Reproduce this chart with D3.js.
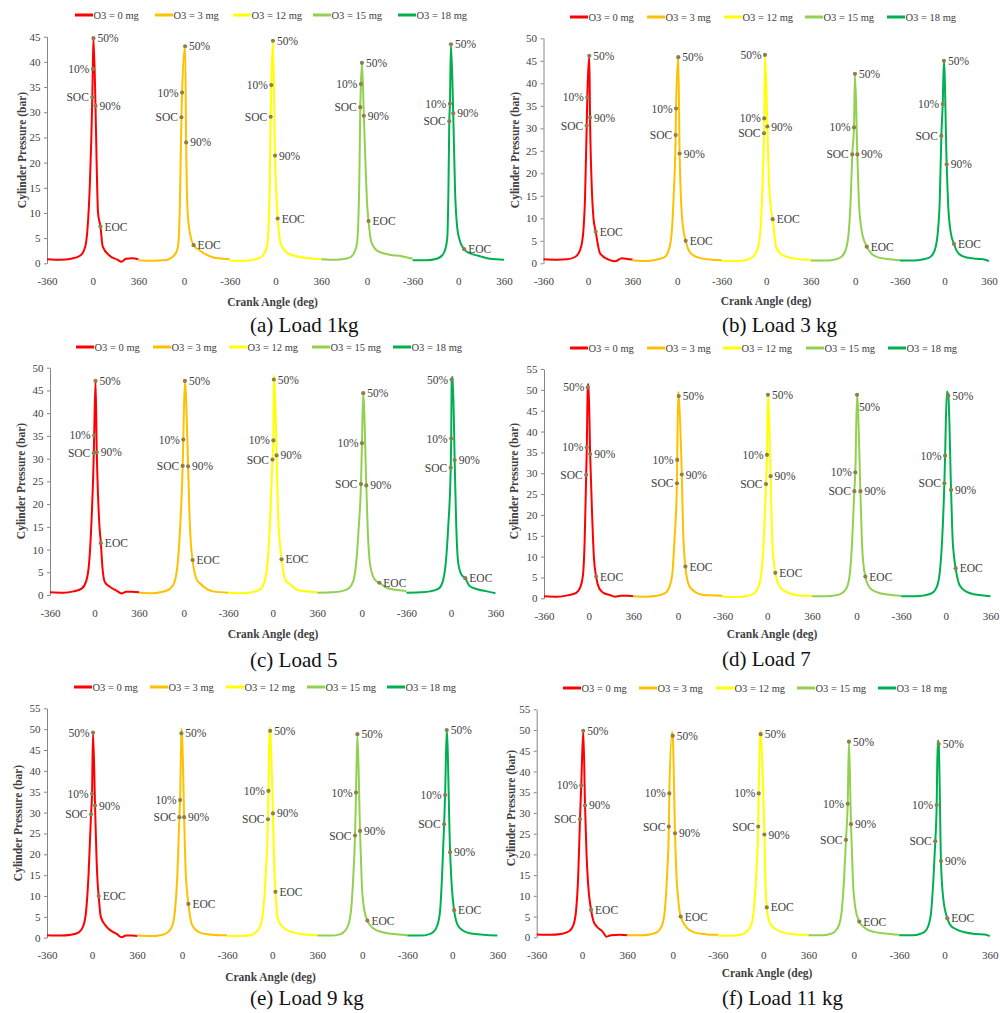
<!DOCTYPE html>
<html><head><meta charset="utf-8">
<script src="https://cdn.jsdelivr.net/npm/d3@7"></script>
<style>body{margin:0;background:#fff}svg{display:block}</style>
</head><body>
<svg id="c" width="1000" height="1013"></svg>
<script>
// ---------- data ----------
const seriesNames = ["O3 = 0 mg","O3 = 3 mg","O3 = 12 mg","O3 = 15 mg","O3 = 18 mg"];
const seriesColors = ["#FF0000","#FFC000","#FFFF00","#92D050","#00B050"];
const xTickLabels = ["-360","0","360","0","-360","0","360","0","-360","0","360"];
const markerNames = ["SOC","10%","50%","90%","EOC"];
const captions = ["(a) Load 1kg","(b) Load 3 kg","(c) Load 5","(d) Load 7","(e) Load 9 kg","(f) Load 11 kg"];
const yMaxes = [45,50,50,55,55,55];

// markers per series: [crank angle deg, pressure bar] for SOC, 10%, 50%, 90%, EOC
const markA = [
 [[-3,33.0],[1,38.6],[6,44.7],[22,31.3],[61,7.3]],
 [[-21,29.0],[-16,33.9],[8,43.1],[16,24.0],[75,3.6]],
 [[-38,29.1],[-33,35.4],[-20,44.2],[-4,21.4],[17,8.9]],
 [[-52,31.0],[-47,35.6],[-39,39.8],[-24,29.3],[13,8.4]],
 [[-71,28.2],[-66,31.7],[-58,43.5],[-40,29.8],[46,2.8]]
];
// remaining pressure trace points [crank angle deg, pressure bar]
const shapeA = [
 [[-360,0.8],[-250,0.7],[-170,0.9],[-100,1.5],[-60,3.2],[-42,6.5],[-22,16],[31,20],[42,10],[79,3.3],[134,1.5],[197,0.7],[226,0.3],[262,0.9],[310,1.0],[360,0.8]],
 [[-360,0.6],[-250,0.5],[-141,0.65],[-89,1.3],[-58,2.4],[-45,4],[-33,12],[28,10],[50,5.5],[120,2.6],[224,1.2],[300,0.9],[360,0.8]],
 [[-360,0.5],[-250,0.5],[-170,0.7],[-110,1.3],[-80,2.4],[-64,3.8],[-54,8],[-45,16],[6,14],[41,4.0],[80,2.3],[132,1.65],[265,1.0],[360,0.8]],
 [[-360,0.8],[-250,0.7],[-170,0.9],[-125,1.3],[-95,2.4],[-78,4],[-68,8],[-60,16],[-10,19],[0,12.5],[35,4.2],[92,2.3],[180,1.7],[275,1.4],[360,0.9]],
 [[-360,0.6],[-250,0.6],[-170,0.9],[-130,1.5],[-105,2.6],[-87,5],[-78,14],[-25,14],[-8,7],[12,4.5],[90,2.0],[156,1.5],[250,0.9],[360,0.7]]
];

const markB = [
 [[-11,30.6],[-6,36.9],[10,46.1],[16,32.4],[62,7.0]],
 [[-12,28.5],[-9,34.4],[9,45.8],[20,24.4],[69,5.0]],
 [[-18,28.9],[-16,32.2],[-10,46.3],[9,30.4],[52,9.8]],
 [[-25,24.2],[-11,30.2],[-3,42.1],[16,24.2],[92,3.7]],
 [[-25,28.3],[-14,35.4],[-4,45.0],[18,22.0],[77,4.3]]
];
const shapeB = [
 [[-360,0.9],[-250,0.8],[-170,0.9],[-105,1.4],[-65,2.9],[-40,6.5],[-24,15],[30,17],[44,10],[97,2.2],[177,0.7],[218,0.45],[272,1.1],[330,0.9],[360,0.85]],
 [[-360,0.6],[-250,0.5],[-170,0.8],[-105,1.3],[-70,2.8],[-45,6.5],[-28,15],[33,13],[48,8],[110,2.2],[180,1.2],[280,0.8],[360,0.7]],
 [[-360,0.5],[-250,0.5],[-170,0.7],[-110,1.4],[-72,3.0],[-48,7],[-32,16],[22,18],[36,12.5],[80,3.6],[130,1.8],[220,1.1],[300,0.8],[360,0.8]],
 [[-360,0.6],[-250,0.6],[-170,0.8],[-115,1.4],[-80,2.8],[-55,6.5],[-38,14],[30,13],[50,7.5],[135,2.0],[200,1.2],[280,0.9],[360,0.7]],
 [[-360,0.6],[-250,0.6],[-170,0.9],[-115,1.4],[-80,2.8],[-55,6.5],[-38,14],[32,12],[50,7],[120,2.0],[180,1.3],[260,1.0],[330,0.8],[360,0.5]]
];

const markC = [
 [[-6,31.2],[-3,35.1],[8,47.1],[18,31.4],[51,11.4]],
 [[-8,28.4],[-3,34.2],[10,47.1],[36,28.3],[72,7.7]],
 [[-2,29.8],[5,34.0],[9,47.4],[31,30.7],[71,7.85]],
 [[-7,24.4],[1,33.4],[11,44.4],[36,24.1],[141,2.7]],
 [[-2,28.0],[2,34.4],[6,47.4],[30,29.7],[116,3.7]]
];
const shapeC = [
 [[-360,0.6],[-250,0.5],[-170,0.8],[-105,1.4],[-68,3.0],[-44,7],[-25,16],[28,22],[40,15],[64,6],[84,2.8],[124,1.8],[180,0.9],[218,0.35],[255,0.7],[300,0.7],[360,0.6]],
 [[-360,0.5],[-250,0.4],[-170,0.7],[-108,1.4],[-72,3.0],[-48,7],[-28,15],[48,17],[58,11.5],[105,3.4],[131,2.6],[238,0.8],[360,0.5]],
 [[-360,0.5],[-250,0.4],[-170,0.6],[-100,1.3],[-66,3.0],[-42,7],[-22,16],[12,48.3],[44,17],[55,12],[100,3.4],[138,2.4],[200,1.1],[270,0.8],[360,0.6]],
 [[-360,0.5],[-250,0.6],[-170,0.8],[-105,1.5],[-70,3.0],[-46,7],[-25,15],[48,14],[65,7],[92,4.0],[115,3.1],[200,1.6],[290,1.1],[360,0.9]],
 [[-360,0.5],[-250,0.6],[-170,0.8],[-100,1.4],[-66,3.0],[-42,7],[-22,15],[14,48.0],[42,16],[59,7],[86,4.4],[150,2.0],[220,1.2],[290,0.8],[360,0.4]]
];

const markD = [
 [[-20,29.6],[-15,36.2],[-7,50.6],[12,34.6],[60,5.2]],
 [[-8,27.6],[-6,33.2],[6,48.5],[31,29.7],[60,7.6]],
 [[-10,27.4],[-2,34.4],[6,48.8],[27,29.3],[65,6.1]],
 [[-18,25.7],[-10,30.2],[4,48.8],[31,25.7],[71,5.2]],
 [[-12,27.6],[-6,34.2],[20,48.6],[42,26.0],[79,7.2]]
];
const shapeD = [
 [[-360,0.5],[-250,0.4],[-170,0.7],[-100,1.3],[-68,2.6],[-46,5.5],[-32,14],[-1,51.4],[28,20],[42,10],[85,2.4],[120,1.3],[170,0.8],[212,0.4],[260,0.6],[320,0.6],[360,0.5]],
 [[-360,0.5],[-250,0.4],[-170,0.6],[-100,1.3],[-68,2.8],[-45,6],[-28,14],[2,49.5],[42,16],[50,11],[90,3.0],[140,1.5],[210,0.8],[300,0.7],[360,0.6]],
 [[-360,0.4],[-250,0.3],[-170,0.5],[-105,1.2],[-70,2.8],[-46,6.5],[-28,14],[40,14],[52,9],[100,2.8],[150,1.6],[230,0.8],[300,0.6],[360,0.6]],
 [[-360,0.5],[-250,0.5],[-170,0.7],[-110,1.4],[-75,2.8],[-52,6.5],[-35,14],[44,13],[56,8],[110,2.4],[170,1.4],[250,0.9],[320,0.7],[360,0.6]],
 [[-360,0.5],[-250,0.5],[-170,0.7],[-108,1.3],[-72,2.8],[-48,6.5],[-30,14],[8,49.6],[55,14],[66,10],[110,3.2],[165,1.6],[240,0.9],[320,0.6],[360,0.5]]
];

const markE = [
 [[-8,29.6],[0,34.5],[8,49.2],[24,31.7],[53,10.0]],
 [[-22,28.9],[-16,33.0],[-6,49.0],[16,28.9],[50,8.1]],
 [[-34,28.4],[-30,35.2],[-16,49.6],[6,29.8],[26,11.0]],
 [[-58,24.5],[-50,34.8],[-39,48.8],[-18,25.6],[41,4.1]],
 [[-66,27.2],[-58,34.2],[-45,49.8],[-18,20.5],[14,6.6]]
];
const shapeE = [
 [[-360,0.6],[-250,0.5],[-170,0.7],[-105,1.3],[-70,2.8],[-47,6.5],[-28,15],[36,19],[45,13],[70,5],[117,2.6],[160,1.5],[197,0.9],[237,0.1],[270,0.5],[320,0.5],[360,0.4]],
 [[-360,0.5],[-250,0.4],[-170,0.6],[-115,1.3],[-80,2.8],[-57,6.5],[-38,15],[-2,50.1],[28,16],[38,11.5],[80,3.0],[130,1.4],[200,0.8],[300,0.6],[360,0.6]],
 [[-360,0.4],[-250,0.4],[-170,0.6],[-130,1.3],[-95,2.8],[-72,6.5],[-52,15],[-20,50.5],[16,17],[45,4.5],[90,2.4],[150,1.4],[230,0.9],[300,0.7],[360,0.6]],
 [[-360,0.5],[-250,0.5],[-180,0.8],[-150,1.3],[-115,2.8],[-90,6.5],[-73,14],[-4,13],[14,7],[90,2.2],[160,1.3],[250,0.9],[320,0.7],[360,0.6]],
 [[-360,0.5],[-250,0.5],[-190,0.8],[-155,1.3],[-122,2.8],[-98,6.5],[-82,15],[-4,12],[40,3.2],[80,1.8],[150,1.0],[250,0.7],[360,0.5]]
];

const markF = [
 [[-16,28.5],[-6,36.7],[10,49.8],[24,31.8],[72,6.6]],
 [[-30,26.7],[-26,34.7],[1,48.6],[19,25.1],[64,5.0]],
 [[-40,26.7],[-36,34.7],[-20,49.0],[9,24.8],[28,7.2]],
 [[-63,23.5],[-49,32.2],[-39,47.2],[-23,27.3],[43,3.8]],
 [[-73,23.2],[-62,31.9],[-46,46.6],[-28,18.4],[22,4.6]]
];
const shapeF = [
 [[-360,0.7],[-250,0.6],[-170,0.8],[-105,1.4],[-70,2.8],[-47,6.5],[-30,15],[36,20],[48,13],[90,4],[117,2.6],[160,1.5],[196,0.15],[230,0.5],[300,0.6],[360,0.5]],
 [[-360,0.5],[-250,0.5],[-180,0.7],[-120,1.3],[-85,2.8],[-62,6.5],[-44,15],[-5,49.5],[32,14],[45,9],[110,2.4],[170,1.2],[250,0.8],[320,0.6],[360,0.6]],
 [[-360,0.4],[-250,0.4],[-180,0.6],[-135,1.3],[-98,2.8],[-75,6.5],[-56,15],[-24,49.8],[18,13],[50,3.6],[90,2.2],[150,1.2],[230,0.8],[300,0.6],[360,0.6]],
 [[-360,0.5],[-250,0.5],[-190,0.8],[-155,1.3],[-120,2.8],[-96,6.5],[-78,14],[-8,14],[12,7],[90,2.2],[160,1.3],[250,0.9],[320,0.7],[360,0.6]],
 [[-360,0.5],[-250,0.5],[-195,0.8],[-160,1.3],[-128,2.8],[-105,6.5],[-88,14],[-54,47.5],[-12,10],[50,2.8],[90,2.0],[160,1.2],[250,0.8],[320,0.7],[360,0.3]]
];

// ---------- layout ----------
const layout = [
 {x0:47,   x1:504,   yb:263.3, yt:36.7,  legX:[75,155,233,313,398],  legY:15,  tX:272.5, tY:305.5, yX:21.7, yY:150, cX:250, cY:332},
 {x0:543.5,x1:989,   yb:263.3, yt:38.3,  legX:[570,647,724,805,887], legY:17,  tX:766,   tY:304.5, yX:515,  yY:150, cX:722, cY:332},
 {x0:50,   x1:495.5, yb:595,   yt:367.7, legX:[76,153,229,312,393],  legY:347, tX:273,   tY:638,   yX:20.7, yY:481, cX:250, cY:667},
 {x0:544,  x1:990.5, yb:598.3, yt:369,   legX:[570,647,723,806,888], legY:348, tX:772,   tY:638,   yX:514,  yY:481, cX:722, cY:666},
 {x0:47,   x1:497.4, yb:937.7, yt:708.3, legX:[74,150,226,307,387],  legY:687, tX:270.5, tY:981,   yX:18.3, yY:823, cX:250, cY:1005},
 {x0:536.7,x1:989.8, yb:937.3, yt:709.3, legX:[563,639,716,797,878], legY:688, tX:767,   tY:977,   yX:511,  yY:808, cX:722, cY:1005}
];
const labelPlace = {"1-2-2":"L","2-4-2":"L","3-0-2":"L","3-3-2":"BR","4-0-2":"L"};

const panels = [[markA,shapeA],[markB,shapeB],[markC,shapeC],[markD,shapeD],[markE,shapeE],[markF,shapeF]];
const TXT = "#404040";
const SERIF = "Liberation Serif";
const svg = d3.select("#c").attr("font-family", SERIF);

panels.forEach(([marks, shapes], i) => {
  const L = layout[i];
  const x = d3.scaleLinear().domain([0, 3600]).range([L.x0, L.x1]);
  const y = d3.scaleLinear().domain([0, yMaxes[i]]).range([L.yb, L.yt]);
  const g = svg.append("g").attr("font-family", SERIF);

  // y axis
  const ya = g.append("g").attr("transform", `translate(${L.x0},0)`)
    .call(d3.axisLeft(y).tickValues(d3.range(0, yMaxes[i] + 0.1, 5)).tickSize(3).tickSizeOuter(0).tickPadding(3.5));
  ya.attr("font-family", SERIF);
  ya.select(".domain").attr("stroke", "#868686");
  ya.selectAll(".tick line").attr("stroke", "#868686");
  ya.selectAll("text").attr("font-family", SERIF).attr("font-size", 11).attr("fill", TXT);

  // x tick labels
  const xa = g.append("g").attr("transform", `translate(0,${L.yb})`)
    .call(d3.axisBottom(x).tickValues(d3.range(0, 3601, 360)).tickFormat((d, j) => xTickLabels[j]).tickSize(0).tickPadding(14));
  xa.attr("font-family", SERIF);
  xa.select(".domain").remove();
  xa.selectAll("text").attr("font-family", SERIF).attr("font-size", 11).attr("fill", TXT);

  // curves
  const line = d3.line().x(d => x(d[0])).y(d => y(d[1])).curve(d3.curveMonotoneX);
  marks.forEach((mk, s) => {
    const off = 720 * s + 360;
    const pts = shapes[s].concat(mk).sort((a, b) => a[0] - b[0]).map(p => [p[0] + off, p[1]]);
    g.append("path").attr("d", line(pts)).attr("fill", "none")
      .attr("stroke", seriesColors[s]).attr("stroke-width", 2).attr("stroke-linejoin", "round");
  });

  // markers + labels
  marks.forEach((mk, s) => {
    const off = 720 * s + 360;
    mk.forEach((p, m) => {
      const cx = x(p[0] + off), cy = y(p[1]);
      g.append("circle").attr("cx", cx).attr("cy", cy).attr("r", 2.1).attr("fill", "#8f7f4f");
      let place = labelPlace[`${i}-${s}-${m}`] || (m < 2 ? "L" : "R");
      const t = g.append("text").text(markerNames[m]).attr("font-family", SERIF)
        .attr("font-size", 11.5).attr("fill", TXT).attr("dy", "0.35em");
      if (place === "L") t.attr("x", cx - 3.5).attr("y", cy).attr("text-anchor", "end");
      else if (place === "BR") t.attr("x", cx + 2).attr("y", cy + 12).attr("text-anchor", "start");
      else t.attr("x", cx + 4).attr("y", cy).attr("text-anchor", "start");
    });
  });

  // legend
  seriesNames.forEach((nm, s) => {
    const lx = L.legX[s];
    g.append("line").attr("x1", lx).attr("x2", lx + 18).attr("y1", L.legY).attr("y2", L.legY)
      .attr("stroke", seriesColors[s]).attr("stroke-width", 3);
    g.append("text").text(nm).attr("x", lx + 18.5).attr("y", L.legY).attr("dy", "0.35em")
      .attr("font-family", SERIF).attr("font-size", 10.5).attr("fill", TXT);
  });

  // axis titles
  g.append("text").text("Crank Angle (deg)").attr("x", L.tX).attr("y", L.tY)
    .attr("text-anchor", "middle").attr("font-weight", "bold").attr("font-family", SERIF)
    .attr("font-size", 11.5).attr("fill", TXT);
  g.append("text").text("Cylinder Pressure (bar)")
    .attr("transform", `translate(${L.yX},${L.yY}) rotate(-90)`).attr("dy", "0.35em")
    .attr("text-anchor", "middle").attr("font-weight", "bold").attr("font-family", SERIF)
    .attr("font-size", 11.5).attr("fill", TXT);

  // caption
  g.append("text").text(captions[i]).attr("x", L.cX).attr("y", L.cY).attr("font-family", SERIF)
    .attr("font-size", 21).attr("fill", "#111");
});
</script>
</body></html>
